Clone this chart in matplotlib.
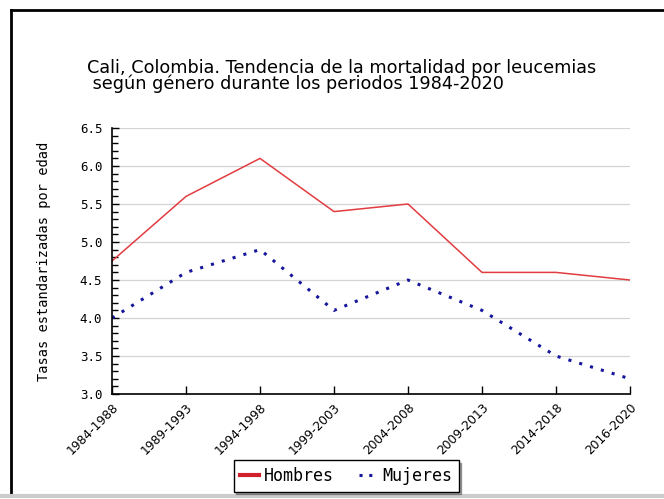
import matplotlib
matplotlib.use('Agg')
from matplotlib import pyplot as plt
from matplotlib.lines import Line2D
import matplotlib.transforms as mtransforms

periodos = ['1984-1988', '1989-1993', '1994-1998', '1999-2003',
            '2004-2008', '2009-2013', '2014-2018', '2016-2020']
hombres = [4.75, 5.6, 6.1, 5.4, 5.5, 4.6, 4.6, 4.5]
mujeres = [4.0, 4.6, 4.9, 4.1, 4.5, 4.1, 3.5, 3.2]

titulo = ('Cali, Colombia. Tendencia de la mortalidad por leucemias\n'
          ' según género durante los periodos 1984-2020')

rojo = '#e23c40'
azul = '#16169c'

fig = plt.figure(figsize=(6.64, 4.99), dpi=100)
ax = fig.add_axes([0.1687, 0.2104, 0.7801, 0.5331])

x = list(range(len(periodos)))
ax.plot(x, hombres, color=rojo, lw=1.1)
ax.plot(x, mujeres, color=azul, lw=2.2, linestyle=(0, (1, 2.7)),
        dash_capstyle='butt')

ax.set_xlim(0, len(periodos) - 1)
ax.set_ylim(3.0, 6.5)
ax.set_yticks([3.0, 3.5, 4.0, 4.5, 5.0, 5.5, 6.0, 6.5])
ax.set_yticks([v / 10 for v in range(30, 66)], minor=True)
ax.yaxis.grid(True, color='#d4d4d4', lw=0.9)
ax.set_axisbelow(True)
ax.set_xticks(x)
ax.set_xticklabels(periodos, rotation=45, ha='right', rotation_mode='anchor',
                   fontsize=8.8, family='DejaVu Sans')
desplaza = mtransforms.ScaledTranslation(-11 / 100, -3 / 100, fig.dpi_scale_trans)
for lab in ax.get_xticklabels():
    lab.set_transform(lab.get_transform() + desplaza)
for lab in ax.get_yticklabels():
    lab.set_family('DejaVu Sans Mono')
    lab.set_fontsize(9)
ax.tick_params(axis='y', which='major', direction='in', length=5, width=1, pad=7)
ax.tick_params(axis='y', which='minor', direction='in', length=4, width=1)
ax.tick_params(axis='x', which='major', direction='in', length=6, width=1, pad=5)
for s in ['top', 'right']:
    ax.spines[s].set_visible(False)
for s in ['left', 'bottom']:
    ax.spines[s].set_linewidth(1.2)

ax.set_ylabel('Tasas estandarizadas por edad', fontsize=9.8,
              family='DejaVu Sans Mono')
ax.yaxis.set_label_coords(-(112 - 51) / 518, 0.5)

fig.text(87 / 664, 1 - 59 / 499, titulo, fontsize=12.7, ha='left', va='top',
         linespacing=0.86)

manijas = [Line2D([], [], color='#d0202c', lw=3),
           Line2D([], [], color=azul, lw=2.2, linestyle=(0, (1, 2.2)),
                  dash_capstyle='butt')]
leg = fig.legend(manijas, ['Hombres', 'Mujeres'], loc='center',
                 bbox_to_anchor=(346 / 664, 1 - 476 / 499), ncol=2,
                 frameon=True, fancybox=False, shadow=True, edgecolor='black',
                 prop={'family': 'DejaVu Sans Mono', 'size': 12},
                 handlelength=1.1, columnspacing=1.5, handletextpad=0.3,
                 borderpad=0.4, borderaxespad=0)
leg.get_frame().set_linewidth(1.0)

# marco exterior
fig.add_artist(Line2D([11 / 664, 1], [1 - 10 / 499, 1 - 10 / 499],
                      transform=fig.transFigure, color='black', lw=2))
fig.add_artist(Line2D([11 / 664, 11 / 664], [1 - 10 / 499, 1 - 495 / 499],
                      transform=fig.transFigure, color='black', lw=2))
fig.add_artist(Line2D([0, 1], [1 - 496 / 499, 1 - 496 / 499],
                      transform=fig.transFigure, color='#cccccc', lw=3))

fig.savefig('out.png', dpi=100)
